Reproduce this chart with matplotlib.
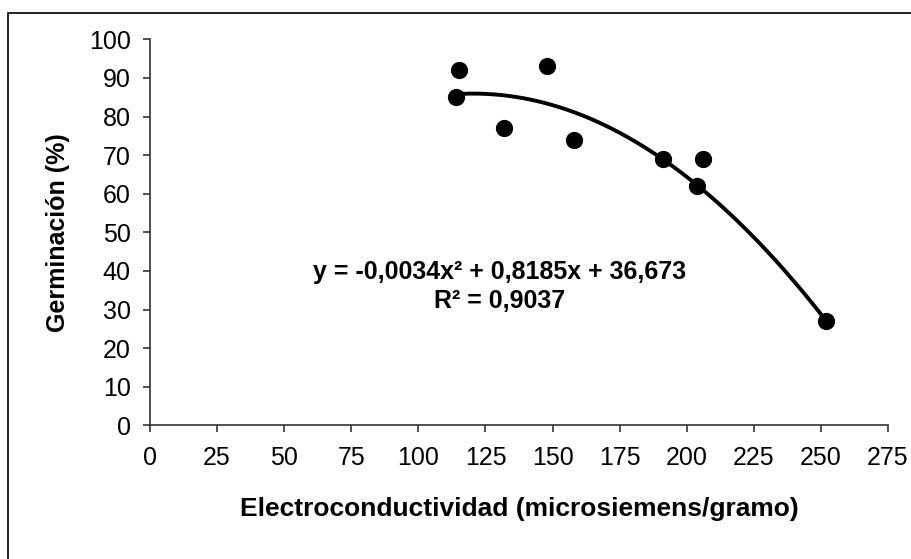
import numpy as np
import matplotlib
matplotlib.use('Agg')
import matplotlib.pyplot as plt
from matplotlib.patches import Rectangle

plt.rcParams['font.family'] = ['Liberation Sans', 'DejaVu Sans']

# measured samples
conductividad = [114, 115, 132, 148, 158, 191, 204, 206, 252]
germinacion = [85, 92, 77, 93, 74, 69, 62, 69, 27]

# fitted polynomial trend (as reported)
coef = [-0.0034, 0.8185, 36.673]
r2 = 0.9037
eq_text = 'y = -0,0034x² + 0,8185x + 36,673\nR² = 0,9037'

xticks = np.arange(0, 276, 25)
yticks = np.arange(0, 101, 10)

fig = plt.figure(figsize=(9.12, 5.59), dpi=100)
ax = fig.add_axes([150/912, 1-425.3/559, 738/912, 386/559])

xs = np.linspace(min(conductividad), max(conductividad), 200)
ax.plot(xs, np.polyval(coef, xs), color='black', lw=2.8, zorder=2)
ax.scatter(conductividad, germinacion, s=130, color='black', zorder=3)

ax.set_xlim(0, 275)
ax.set_ylim(0, 100)
ax.set_xticks(xticks)
ax.set_yticks(yticks)
for s in ['top', 'right']:
    ax.spines[s].set_visible(False)
for s in ['left', 'bottom']:
    ax.spines[s].set_color('#333333')
    ax.spines[s].set_linewidth(1.2)
ax.tick_params(axis='both', direction='out', length=5, width=1.2,
               color='#333333', labelsize=18)
ax.tick_params(axis='x', pad=10)
ax.tick_params(axis='y', pad=9)

ax.set_xlabel('Electroconductividad (microsiemens/gramo)', fontsize=19,
              fontweight='bold')
ax.set_ylabel('Germinación (%)', fontsize=18, fontweight='bold')
ax.xaxis.set_label_coords(0.5, -0.185)
ax.yaxis.set_label_coords(-0.108, 0.5)

ax.text(130.3, 36, eq_text, ha='center', va='center', fontsize=18,
        fontweight='bold', linespacing=1.25)

# chart frame
fig.patches.append(Rectangle((8.5/912, -0.1), 1.2, 1 - 13.5/559 + 0.1,
                             transform=fig.transFigure, fill=False,
                             edgecolor='black', lw=1.2))

fig.savefig('out.png', dpi=100)
